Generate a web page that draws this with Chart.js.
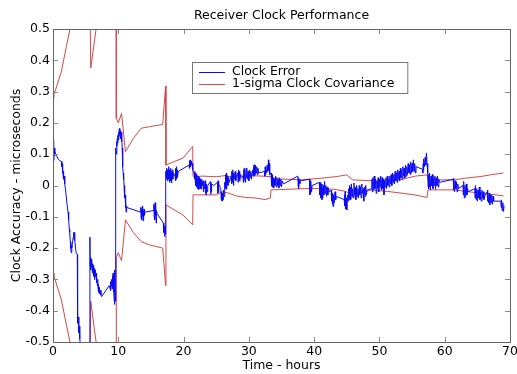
<!DOCTYPE html>
<html><head><meta charset="utf-8">
<script src="https://cdn.jsdelivr.net/npm/chart.js@4"></script>
<style>html,body{margin:0;padding:0;background:#fff}canvas{display:block}</style>
</head><body>
<canvas id="c" width="517" height="374"></canvas>
<script>
const chartTitle = 'Receiver Clock Performance';
const xAxisTitle = 'Time - hours';
const yAxisTitle = 'Clock Accuracy - microseconds';
const seriesNames = ['Clock Error', '1-sigma Clock Covariance'];
const xTickValues = [0,10,20,30,40,50,60,70];
const xTickLabels = ['0','10','20','30','40','50','60','70'];
const yTickValues = [-0.5,-0.4,-0.3,-0.2,-0.1,0,0.1,0.2,0.3,0.4,0.5];
const yTickLabels = ['-0.5','-0.4','-0.3','-0.2','-0.1','0','0.1','0.2','0.3','0.4','0.5'];

// Clock error [hours, microseconds], by phase
const errorPhase1 = [[0,0.146],[0.05,0.09],[0.1,0.13],[0.15,0.08],[0.2,0.12],[0.25,0.095],[0.3,0.11],[0.4,0.1],[0.55,0.095],[0.8,0.085],[1.0,0.08],[1.28,0.077],[1.35,0.06],[1.4,0.07],[1.45,0.04],[1.5,0.055],[1.55,0.03],[1.6,0.045],[1.65,0.02],[1.7,0.03],[1.8,0.005],[1.9,-0.01],[2.0,-0.03],[2.15,-0.06],[2.3,-0.085],[2.4,-0.11],[2.5,-0.14],[2.56,-0.15],[2.65,-0.18],[2.72,-0.2],[2.8,-0.215],[2.85,-0.19],[2.9,-0.2],[3.0,-0.18],[3.1,-0.165],[3.17,-0.15],[3.25,-0.175],[3.3,-0.15],[3.35,-0.17],[3.45,-0.2],[3.55,-0.215],[3.72,-0.22],[3.74,-0.43],[3.8,-0.44],[3.85,-0.42],[3.95,-0.47],[4.0,-0.45],[4.1,-0.49],[4.25,-0.52],[4.35,-0.56]];
const errorPhase2 = [[5.6,-0.56],[5.66,-0.165],[5.68,-0.25],[5.75,-0.23],[5.8,-0.27],[5.85,-0.24],[5.9,-0.26],[5.95,-0.235],[6.0,-0.27],[6.05,-0.25],[6.1,-0.28],[6.15,-0.255],[6.2,-0.29],[6.25,-0.26],[6.3,-0.285],[6.35,-0.265],[6.4,-0.3],[6.45,-0.27],[6.5,-0.29],[6.6,-0.28],[6.65,-0.31],[6.7,-0.295],[6.8,-0.32],[6.85,-0.3],[6.9,-0.33],[6.95,-0.315],[7.0,-0.34],[7.05,-0.325],[7.1,-0.345],[7.2,-0.335],[7.35,-0.35],[7.45,-0.355],[8.6,-0.32],[8.75,-0.33],[8.8,-0.31],[8.85,-0.335],[8.9,-0.305],[8.95,-0.32],[9.0,-0.3],[9.05,-0.33],[9.1,-0.29],[9.15,-0.32],[9.2,-0.28],[9.25,-0.34],[9.3,-0.31],[9.35,-0.36],[9.42,-0.38],[9.45,-0.27],[9.5,-0.33],[9.58,-0.37],[9.62,0.12],[9.7,0.1],[9.75,0.14],[9.8,0.125],[9.85,0.15],[9.9,0.135],[9.95,0.16],[10.0,0.145],[10.05,0.17],[10.1,0.155],[10.15,0.18],[10.2,0.16],[10.25,0.183],[10.3,0.165],[10.35,0.175],[10.4,0.15],[10.45,0.17],[10.5,0.14],[10.55,0.16],[10.6,0.12],[10.65,0.09],[10.7,0.06],[10.75,0.04],[10.8,0.02],[10.85,0.03],[10.9,-0.01],[10.95,0.0],[11.0,-0.04],[11.05,-0.03],[11.1,-0.07],[11.15,-0.05],[11.2,-0.085],[11.25,-0.065],[11.3,-0.07]];
const errorPhase3 = [[13.4,-0.085],[13.45,-0.07],[13.5,-0.105],[13.55,-0.075],[13.6,-0.11],[13.65,-0.07],[13.7,-0.1],[13.75,-0.065],[13.8,-0.113],[13.85,-0.08],[13.9,-0.1],[13.95,-0.075],[14.0,-0.095],[14.1,-0.085],[15.4,-0.08],[15.45,-0.06],[15.5,-0.1],[15.55,-0.065],[15.6,-0.11],[15.65,-0.055],[15.7,-0.095],[15.75,-0.07],[15.8,-0.12],[15.85,-0.08],[15.95,-0.09],[16.9,-0.12],[16.95,-0.125],[17.0,-0.15],[17.05,-0.13],[17.1,-0.163],[17.15,-0.135],[17.2,-0.155],[17.25,-0.14],[17.28,0.045],[17.35,0.03],[17.4,0.055],[17.45,0.02],[17.5,0.05],[17.55,0.015],[17.6,0.045],[17.65,0.025],[17.7,0.06],[17.75,0.02],[17.8,0.05],[17.85,0.01],[17.9,0.04],[17.95,0.03],[18.0,0.055],[18.05,0.015],[18.1,0.045],[18.15,0.008],[18.2,0.035],[18.3,0.05],[18.35,0.02],[18.4,0.04],[18.5,0.035],[18.7,0.03],[18.75,0.055],[18.8,0.015],[18.85,0.05],[18.9,0.02],[18.95,0.06],[19.0,0.025],[19.05,0.05],[19.1,0.03],[19.2,0.045],[20.8,0.065],[20.85,0.06],[20.9,0.08],[20.95,0.055],[21.0,0.075],[21.05,0.06],[21.1,0.082],[21.15,0.065],[21.2,0.078],[21.3,0.07],[21.4,0.05]];
const errorPhase4 = [[21.6,0.04],[21.7,0.02],[21.75,0.045],[21.8,0.01],[21.85,0.04],[21.9,0.0],[21.95,0.035],[22.0,-0.005],[22.05,0.03],[22.1,-0.01],[22.15,0.025],[22.2,0.005],[22.25,0.03],[22.3,-0.013],[22.35,0.02],[22.4,-0.01],[22.45,0.025],[22.5,0.0],[22.6,0.02],[22.65,-0.01],[22.7,0.015],[22.75,-0.012],[22.8,0.02],[22.9,0.0],[23.0,0.015],[23.05,-0.02],[23.1,0.01],[23.2,-0.01],[23.3,0.015],[23.35,-0.025],[23.4,0.01],[23.45,-0.03],[23.5,0.005],[23.6,-0.02],[23.7,0.0],[24.1,0.012],[24.15,-0.028],[24.2,0.01],[24.25,-0.02],[24.3,0.005],[24.6,0.0],[25.2,0.01],[25.25,-0.025],[25.3,0.015],[25.35,-0.02],[25.4,0.005],[25.7,-0.01],[25.75,-0.04],[25.8,-0.02],[25.85,-0.048],[25.9,-0.025],[25.95,-0.05],[26.0,-0.03],[26.05,-0.045],[26.1,-0.015],[26.2,-0.035],[26.3,0.01],[26.35,-0.01],[26.4,0.035],[26.45,0.0],[26.5,0.03],[26.55,-0.012],[26.6,0.04],[26.65,0.005],[26.7,0.03],[26.8,0.0],[26.9,0.025],[27.0,0.01],[27.3,0.03],[27.35,0.005],[27.4,0.045],[27.45,0.01],[27.5,0.05],[27.55,0.015],[27.6,0.04],[27.65,0.0],[27.7,0.035],[27.8,0.02],[27.9,0.045],[28.0,0.015],[28.1,0.03],[28.3,0.04],[28.35,0.01],[28.4,0.05],[28.45,0.02],[28.5,0.045],[28.6,0.015],[28.7,0.035],[28.8,0.025],[29.1,0.03],[29.15,0.01],[29.2,0.05],[29.25,0.015],[29.3,0.055],[29.35,0.02],[29.4,0.045],[29.5,0.01],[29.6,0.05],[29.65,0.025],[29.7,0.056],[29.8,0.02],[29.9,0.045],[30.0,0.015],[30.1,0.05],[30.2,0.025],[30.3,0.045],[30.4,0.02],[30.5,0.04],[30.6,0.05],[30.65,0.03],[30.7,0.06],[30.75,0.035],[30.8,0.066],[30.85,0.03],[30.9,0.06],[30.95,0.035],[31.0,0.065],[31.1,0.04],[31.2,0.06],[31.3,0.035],[31.4,0.055],[31.5,0.04],[32.4,0.045],[32.45,0.03],[32.5,0.06],[32.55,0.035],[32.6,0.055],[32.7,0.04],[32.8,0.065],[32.9,0.045],[33.0,0.082],[33.05,0.05],[33.1,0.07],[33.2,0.035]];
const errorPhase5 = [[33.4,0.04],[33.45,0.0],[33.5,0.03],[33.55,-0.005],[33.6,0.035],[33.65,0.005],[33.7,0.025],[33.8,-0.008],[33.9,0.02],[34.0,0.0],[34.1,0.03],[34.2,-0.005],[34.3,0.025],[34.4,0.0],[34.5,0.02],[34.6,-0.008],[34.7,0.025],[34.8,0.0],[34.9,0.02],[35.0,-0.005],[35.1,0.015],[35.3,0.005],[37.5,0.03],[37.55,0.0],[37.6,0.025],[37.65,-0.01],[37.7,0.02],[37.8,0.005],[37.9,0.015],[39.3,0.02],[39.35,-0.03],[39.4,0.01],[39.45,-0.025],[39.5,0.015],[39.6,-0.02],[39.7,0.0],[40.8,0.01],[40.85,-0.03],[40.9,0.0],[40.95,-0.04],[41.0,0.01],[41.05,-0.035],[41.1,0.005],[41.2,-0.045],[41.25,-0.01],[41.3,-0.04],[41.4,0.0],[41.5,-0.03],[41.6,0.013],[41.7,-0.025],[41.8,0.0],[41.9,-0.035],[42.0,-0.005],[42.1,-0.03],[42.2,-0.01],[42.3,-0.02],[42.6,-0.015],[42.65,-0.05],[42.7,-0.02],[42.8,-0.06],[42.85,-0.025],[42.9,-0.067],[43.0,-0.03],[43.1,-0.055],[43.2,-0.02],[43.3,-0.045],[43.45,-0.035],[44.6,-0.045],[44.65,-0.03],[44.7,-0.065],[44.75,-0.02],[44.8,-0.075],[44.9,-0.04],[45.0,-0.078],[45.1,-0.03],[45.2,-0.05],[45.3,-0.01],[45.35,-0.045],[45.4,0.0],[45.45,-0.04],[45.5,-0.005],[45.6,-0.045],[45.7,0.005],[45.8,-0.035],[45.9,-0.01],[46.0,-0.04],[46.1,0.008],[46.2,-0.03],[46.3,-0.005],[46.4,-0.045],[46.5,0.0],[46.6,-0.035],[46.7,-0.01],[46.8,-0.04],[46.9,0.0],[47.0,-0.03],[47.1,-0.005],[47.2,-0.04],[47.3,0.005],[47.4,-0.025],[47.5,-0.01],[47.6,-0.05],[47.7,-0.005],[47.8,-0.035],[47.9,0.0],[48.0,-0.03],[48.1,-0.015]];
const errorPhase6 = [[48.8,-0.01],[48.85,0.02],[48.9,-0.02],[49.0,0.025],[49.1,-0.015],[49.2,0.03],[49.3,-0.01],[49.4,0.02],[49.5,-0.025],[49.6,0.015],[49.7,-0.01],[49.8,0.025],[49.9,-0.02],[50.0,0.02],[50.1,-0.005],[50.2,0.03],[50.3,-0.015],[50.4,0.025],[50.5,-0.01],[50.6,0.02],[50.7,-0.03],[50.8,0.015],[50.9,-0.005],[51.0,0.025],[51.1,-0.01],[51.2,0.03],[51.3,0.0],[51.4,0.02],[51.5,-0.005],[51.6,0.03],[51.7,0.005],[51.8,0.035],[51.9,0.0],[52.0,0.04],[52.1,0.01],[52.2,0.035],[52.3,0.005],[52.4,0.045],[52.5,0.015],[52.6,0.04],[52.7,0.01],[52.8,0.05],[52.9,0.02],[53.0,0.045],[53.1,0.015],[53.2,0.055],[53.3,0.025],[53.4,0.05],[53.5,0.02],[53.6,0.06],[53.7,0.03],[53.8,0.055],[53.9,0.025],[54.0,0.065],[54.1,0.03],[54.2,0.06],[54.3,0.035],[54.4,0.07],[54.5,0.04],[54.6,0.065],[54.7,0.035],[54.8,0.075],[54.9,0.04],[55.0,0.07],[55.1,0.045],[55.2,0.082],[55.3,0.045],[55.4,0.07],[55.5,0.04],[55.6,0.06],[56.6,0.052],[56.65,0.04],[56.7,0.07],[56.75,0.05],[56.8,0.085],[56.9,0.06],[57.0,0.09],[57.1,0.065],[57.2,0.104],[57.3,0.07]];
const errorPhase7 = [[57.4,0.04],[57.45,0.0],[57.5,0.035],[57.55,-0.01],[57.6,0.03],[57.65,-0.005],[57.7,0.04],[57.8,-0.014],[57.9,0.03],[58.0,0.0],[58.1,0.035],[58.2,-0.01],[58.3,0.025],[58.4,0.0],[58.5,0.03],[58.6,-0.012],[58.7,0.025],[58.8,0.0],[58.9,0.03],[59.0,-0.005],[59.1,0.02],[59.2,0.01],[61.3,0.02],[61.35,-0.015],[61.4,0.023],[61.5,-0.02],[61.6,0.015],[61.7,-0.01],[61.8,0.01],[61.9,-0.02],[62.0,0.005],[62.1,-0.01],[62.8,0.0],[62.85,-0.03],[62.9,0.013],[63.0,-0.04],[63.1,0.0],[63.2,-0.035],[63.3,0.005],[63.4,-0.03],[63.5,-0.01],[63.6,-0.02],[64.6,-0.01],[64.65,-0.04],[64.7,0.0],[64.8,-0.045],[64.9,-0.01],[65.0,-0.05],[65.1,-0.015],[65.2,-0.04],[65.3,-0.005],[65.4,-0.045],[65.5,-0.02],[65.6,-0.05],[65.7,-0.015],[65.8,-0.04],[65.9,-0.02],[66.0,-0.045],[66.2,-0.03],[66.5,-0.02],[66.55,-0.05],[66.6,-0.015],[66.7,-0.055],[66.8,-0.025],[66.9,-0.062],[67.0,-0.03],[67.1,-0.055],[67.2,-0.03],[67.3,-0.06],[67.4,-0.035],[67.5,-0.05],[68.6,-0.05],[68.65,-0.07],[68.7,-0.046],[68.8,-0.08],[68.9,-0.055],[69.0,-0.083],[69.1,-0.065]];

// 1-sigma covariance envelope [hours, microseconds]
const sigmaUpper = [[0,0.28],[0.15,0.3],[0.3,0.3],[1.28,0.364],[2.05,0.444],[2.6,0.5],[3.5,0.57],[4.5,0.64],[5.6,0.7],[5.78,0.375],[6.6,0.5],[8,0.61],[9.69,0.72],[9.7,0.216],[10.0,0.2],[10.5,0.23],[11.1,0.108],[12.3,0.15],[13.5,0.183],[14.8,0.188],[16.8,0.195],[17.25,0.318],[17.3,0.065],[18.6,0.077],[19.9,0.087],[21.4,0.125],[21.45,0.029],[23,0.03],[25,0.028],[26.5,0.032],[27,0.029],[29,0.033],[31,0.031],[32,0.03],[33.4,0.028],[33.5,0.022],[36,0.02],[38,0.018],[41,0.023],[43.6,0.029],[45,0.034],[45.9,0.018],[48.8,0.015],[51.3,0.013],[53.5,0.02],[55.5,0.03],[57.3,0.034],[57.45,0.018],[61.5,0.018],[63,0.023],[65.6,0.029],[67,0.034],[69,0.04]];
const sigmaLower = [[0,-0.28],[0.15,-0.29],[1.28,-0.365],[2.05,-0.445],[2.6,-0.5],[4,-0.6],[5.6,-0.7],[5.78,-0.37],[6.6,-0.5],[8,-0.61],[9.69,-0.72],[9.7,-0.23],[10.0,-0.215],[10.5,-0.24],[11.1,-0.11],[12.3,-0.15],[13.5,-0.179],[14.8,-0.19],[16.8,-0.2],[17.25,-0.32],[17.3,-0.062],[18.6,-0.078],[19.9,-0.094],[21.4,-0.126],[21.45,-0.03],[23,-0.03],[25,-0.03],[26,-0.02],[27,-0.025],[28,-0.033],[29.5,-0.038],[31,-0.04],[32.5,-0.045],[33.3,-0.04],[33.4,-0.014],[36,-0.012],[38.5,-0.01],[41,-0.01],[43,-0.012],[44.9,-0.019],[45.9,-0.035],[46.5,-0.025],[48.8,-0.014],[51.3,-0.019],[53.9,-0.026],[55.4,-0.03],[57.3,-0.038],[57.45,-0.014],[61.5,-0.014],[63.6,-0.02],[66,-0.025],[69,-0.033]];

const clockError = [].concat(errorPhase1, errorPhase2, errorPhase3, errorPhase4, errorPhase5, errorPhase6, errorPhase7);
const toXY = arr => arr.map(p => ({x: p[0], y: p[1]}));

const FONT = 'DejaVu Sans';
const FS = 12.5;
const BLUE = 'rgb(10,10,245)';
const RED = 'rgb(212,72,72)';

const frame = {
  id: 'frame',
  afterDatasetsDraw(chart) {
    const {ctx, chartArea: a, scales: {x, y}} = chart;
    ctx.save();
    ctx.lineWidth = 1;
    ctx.strokeStyle = '#8a8a8a';
    ctx.beginPath();
    const T = 5;
    x.ticks.forEach(t => {
      const px = Math.round(x.getPixelForValue(t.value)) + 0.5;
      ctx.moveTo(px, a.bottom); ctx.lineTo(px, a.bottom - T);
      ctx.moveTo(px, a.top); ctx.lineTo(px, a.top + T);
    });
    y.ticks.forEach(t => {
      const py = Math.round(y.getPixelForValue(t.value)) + 0.5;
      ctx.moveTo(a.left, py); ctx.lineTo(a.left + T, py);
      ctx.moveTo(a.right, py); ctx.lineTo(a.right - T, py);
    });
    ctx.stroke();
    ctx.strokeStyle = '#666';
    ctx.strokeRect(Math.round(a.left) + 0.5, Math.round(a.top) + 0.5, Math.round(a.right - a.left), Math.round(a.bottom - a.top));
    ctx.restore();
  }
};

const legendBox = {
  id: 'legendBox',
  afterDraw(chart) {
    const {ctx, chartArea: a} = chart;
    const ds = chart.data.datasets;
    ctx.save();
    ctx.font = FS + 'px "' + FONT + '"';
    const left = a.left + 139, top = a.top + 33;
    const textX = left + 40;
    const w = Math.max(...seriesNames.map(s => ctx.measureText(s).width));
    const boxW = textX - left + w + 13, boxH = 31;
    ctx.fillStyle = '#fff';
    ctx.fillRect(left, top, boxW, boxH);
    ctx.strokeStyle = '#777';
    ctx.lineWidth = 1;
    ctx.strokeRect(left + 0.5, top + 0.5, boxW, boxH);
    [0, 1].forEach(i => {
      const yy = top + 9.5 + i * 12.6;
      ctx.strokeStyle = ds[i].borderColor;
      ctx.lineWidth = 1;
      ctx.beginPath(); ctx.moveTo(left + 7, Math.round(yy) + 0.5); ctx.lineTo(left + 33, Math.round(yy) + 0.5); ctx.stroke();
      ctx.fillStyle = '#000';
      ctx.textBaseline = 'middle';
      ctx.fillText(ds[i].label, textX, yy);
    });
    ctx.restore();
  }
};

new Chart(document.getElementById('c'), {
  type: 'line',
  data: {
    datasets: [
      {label: seriesNames[0], data: toXY(clockError), borderColor: BLUE, borderWidth: 1, pointRadius: 0, tension: 0, clip: 0},
      {label: seriesNames[1], data: toXY(sigmaUpper), borderColor: RED, borderWidth: 1, pointRadius: 0, tension: 0, clip: 0},
      {label: seriesNames[1] + ' (lower)', data: toXY(sigmaLower), borderColor: RED, borderWidth: 1, pointRadius: 0, tension: 0, clip: 0}
    ]
  },
  options: {
    responsive: false,
    animation: false,
    devicePixelRatio: 1,
    layout: {padding: {left: 0, right: 7, top: 0, bottom: 0}},
    plugins: {
      legend: {display: false},
      tooltip: {enabled: false},
      title: {display: true, text: chartTitle, fullSize: false, color: '#000', font: {family: FONT, size: FS, weight: 'normal'}, padding: {top: 8, bottom: 6}}
    },
    scales: {
      x: {
        type: 'linear', position: 'bottom', min: 0, max: 70,
        grid: {display: false, drawTicks: false}, border: {display: false},
        afterBuildTicks: s => { s.ticks = xTickValues.map(v => ({value: v})); },
        afterFit: s => { s.height = 32; s.paddingLeft = 0; s.paddingRight = 0; },
        ticks: {autoSkip: false, maxRotation: 0, padding: 2, color: '#000', font: {family: FONT, size: FS},
          callback: (v, i) => xTickLabels[i]},
        title: {display: true, text: xAxisTitle, color: '#000', font: {family: FONT, size: FS}, padding: {top: 0, bottom: 1}}
      },
      y: {
        type: 'linear', position: 'left', min: -0.5, max: 0.5,
        grid: {display: false, drawTicks: false}, border: {display: false},
        afterBuildTicks: s => { s.ticks = yTickValues.map(v => ({value: v})); },
        afterFit: s => { s.width = 53; s.paddingTop = 0; s.paddingBottom = 0; },
        ticks: {autoSkip: false, padding: 3, color: '#000', font: {family: FONT, size: FS},
          callback: (v, i) => yTickLabels[i]},
        title: {display: true, text: yAxisTitle, color: '#000', font: {family: FONT, size: FS}, padding: {top: 9.5, bottom: 0}}
      }
    }
  },
  plugins: [frame, legendBox]
});
</script>
</body></html>
